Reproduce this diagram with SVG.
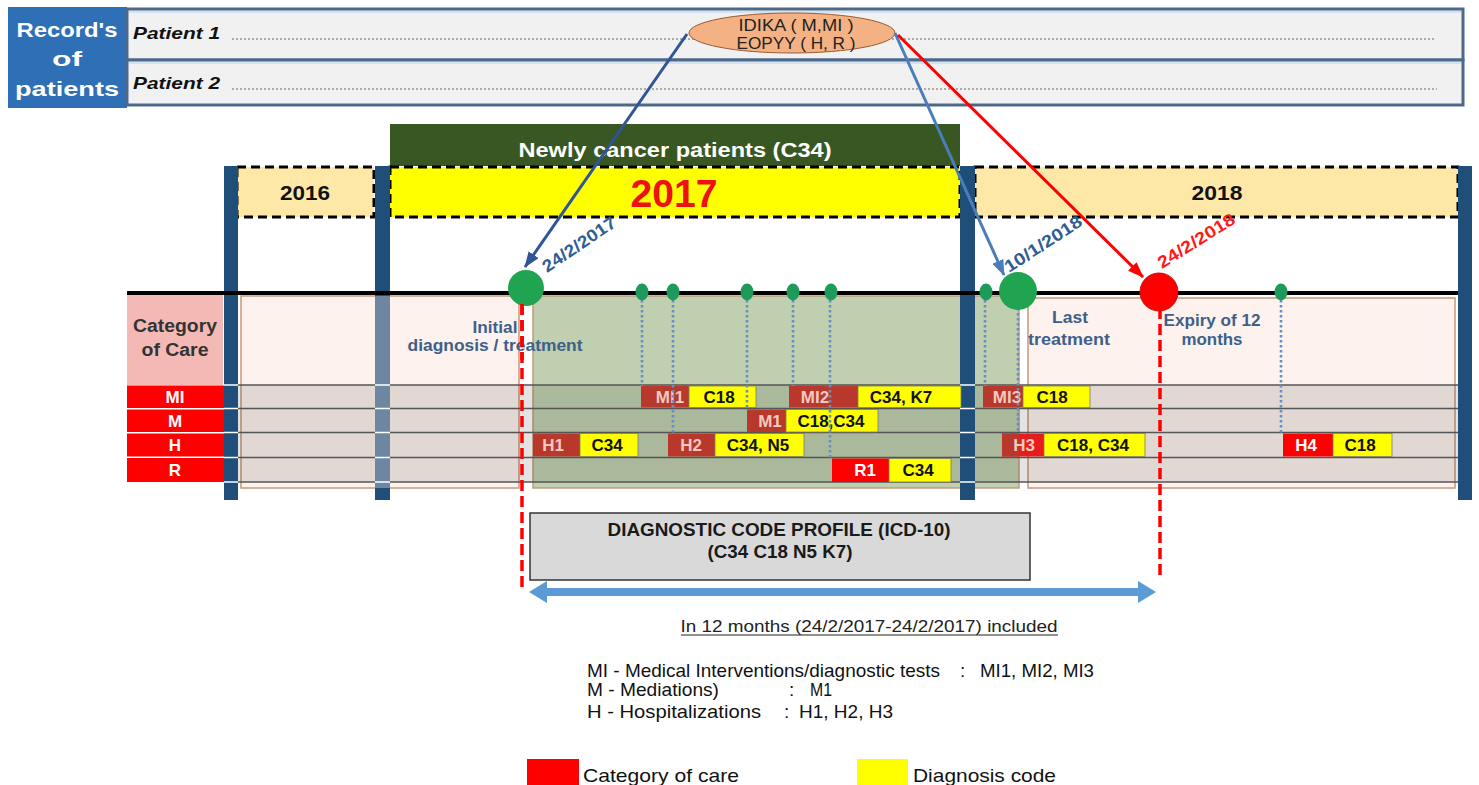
<svg xmlns="http://www.w3.org/2000/svg" width="1479" height="785" viewBox="0 0 1479 785">
<defs>
<style>
text{font-family:"Liberation Sans",Arial,sans-serif}
.b{font-weight:bold}
.cat{fill:#ff0000}
.catd{fill:#b8392b}
.dx{fill:#ffff00;stroke:#7d7d60;stroke-width:0.8}
.lbl{font-weight:bold;font-size:17px;fill:#111;text-anchor:middle}
.wl{font-weight:bold;font-size:17px;fill:#fff;text-anchor:middle}
.pl{font-weight:bold;font-size:17px;fill:#f3c9c2;text-anchor:middle}
.bar{fill:#1f4e79}
.yr{stroke:#000;stroke-width:3;stroke-dasharray:9 5}
.dot{fill:#1e9a5a}
.vd{stroke:#6790c2;stroke-width:2.6;stroke-dasharray:2.5 2.5;fill:none}
.rl{stroke:#555;stroke-width:1.5}
.tk{stroke:#fff;stroke-width:1.5}
.note{font-weight:bold;font-size:17px;fill:#3f5f8a;text-anchor:middle}
.rd{stroke:#ff0000;stroke-width:3.5;stroke-dasharray:11 5;fill:none}
.leg{font-size:19px;fill:#111}
.pan{stroke:#c29a7c;stroke-width:1.5}
</style>
<marker id="ahB" markerUnits="userSpaceOnUse" markerWidth="16" markerHeight="12" refX="15" refY="6" orient="auto"><path d="M0,0 L16,6 L0,12 z" fill="#2f5597"/></marker>
<marker id="ahL" markerUnits="userSpaceOnUse" markerWidth="16" markerHeight="12" refX="15" refY="6" orient="auto"><path d="M0,0 L16,6 L0,12 z" fill="#4a7ebb"/></marker>
<marker id="ahR" markerUnits="userSpaceOnUse" markerWidth="16" markerHeight="12" refX="15" refY="6" orient="auto"><path d="M0,0 L16,6 L0,12 z" fill="#ff0000"/></marker>
</defs>
<rect width="1479" height="785" fill="#fff"/>

<!-- Records header -->
<g id="records">
<rect x="8" y="7" width="119" height="101" fill="#2e6fb5"/>
<text x="67" y="37" class="b" font-size="21" fill="#fff" text-anchor="middle" textLength="101" lengthAdjust="spacingAndGlyphs">Record's</text>
<text x="67" y="66" class="b" font-size="21" fill="#fff" text-anchor="middle" textLength="30" lengthAdjust="spacingAndGlyphs">of</text>
<text x="67" y="96" class="b" font-size="21" fill="#fff" text-anchor="middle" textLength="104" lengthAdjust="spacingAndGlyphs">patients</text>
</g>
<g id="patient1">
<rect x="127" y="9" width="1336" height="51" fill="#f1f1f1" stroke="#4d6889" stroke-width="3"/>
<line x1="129" y1="12" x2="1461" y2="12" stroke="#d3e2f1" stroke-width="2"/>
<text x="133" y="39" class="b" font-size="17" font-style="italic" fill="#111" textLength="87" lengthAdjust="spacingAndGlyphs">Patient 1</text>
<line x1="232" y1="39" x2="1435" y2="39" stroke="#666" stroke-width="1" stroke-dasharray="2 2"/>
</g>
<g id="patient2">
<rect x="127" y="60" width="1336" height="45" fill="#f1f1f1" stroke="#4d6889" stroke-width="3"/>
<line x1="129" y1="63" x2="1461" y2="63" stroke="#d3e2f1" stroke-width="2"/>
<text x="133" y="89" class="b" font-size="17" font-style="italic" fill="#111" textLength="87" lengthAdjust="spacingAndGlyphs">Patient 2</text>
<line x1="232" y1="89" x2="1437" y2="89" stroke="#666" stroke-width="1" stroke-dasharray="2 2"/>
</g>
<g id="source">
<ellipse cx="792" cy="33" rx="103" ry="20" fill="#f4b183" stroke="#9a5b30" stroke-width="1"/>
<text x="796" y="31" font-size="16" fill="#222" text-anchor="middle" textLength="115" lengthAdjust="spacingAndGlyphs">IDIKA  ( M,MI )</text>
<text x="796" y="49" font-size="16" fill="#222" text-anchor="middle" textLength="119" lengthAdjust="spacingAndGlyphs">EOPYY ( H, R )</text>
</g>

<!-- Newly cancer header -->
<g id="newly">
<rect x="390" y="124" width="570" height="42" fill="#385723"/>
<text x="675" y="157" class="b" font-size="20" fill="#fff" text-anchor="middle" textLength="313" lengthAdjust="spacingAndGlyphs">Newly cancer patients (C34)</text>
</g>

<!-- panels -->
<g id="panels">
<rect x="241" y="296" width="278" height="192" fill="#fdf2ed" class="pan"/>
<rect x="533" y="296" width="486" height="192" fill="#bfcfb0" class="pan"/>
<rect x="1028" y="298" width="427" height="190" fill="#fdf2ed" class="pan"/>
<rect x="238" y="385" width="1220" height="97" fill="#000" opacity="0.11"/>
<g class="rl">
<line x1="238" y1="385" x2="1458" y2="385"/>
<line x1="238" y1="408.5" x2="1458" y2="408.5"/>
<line x1="238" y1="432.5" x2="1458" y2="432.5"/>
<line x1="238" y1="457.5" x2="1458" y2="457.5"/>
<line x1="238" y1="482" x2="1458" y2="482"/>
</g>
</g>

<!-- years -->
<g id="year-2016">
<rect x="237" y="167" width="137" height="50" fill="#fde8a8" class="yr"/>
<text x="305" y="200" class="b" font-size="21" fill="#111" text-anchor="middle" textLength="50" lengthAdjust="spacingAndGlyphs">2016</text>
</g>
<g id="year-2017">
<rect x="390" y="167" width="570" height="50" fill="#ffff00" class="yr"/>
<text x="674" y="207" class="b" font-size="38" fill="#ee1111" text-anchor="middle" textLength="87" lengthAdjust="spacingAndGlyphs">2017</text>
</g>
<g id="year-2018">
<rect x="975" y="167" width="483" height="50" fill="#fde8a8" class="yr"/>
<text x="1217" y="200" class="b" font-size="21" fill="#111" text-anchor="middle" textLength="51" lengthAdjust="spacingAndGlyphs">2018</text>
</g>

<!-- vertical bars -->
<g id="bars">
<rect x="224" y="166" width="14" height="334" class="bar"/>
<rect x="375" y="166" width="15" height="334" class="bar"/>
<rect x="375" y="296" width="15" height="192" fill="#6f86a3"/>
<rect x="960" y="166" width="15" height="334" class="bar"/>
<rect x="1458" y="166" width="14" height="334" class="bar"/>
<g class="tk">
<line x1="224" y1="385" x2="238" y2="385"/><line x1="224" y1="408.5" x2="238" y2="408.5"/><line x1="224" y1="432.5" x2="238" y2="432.5"/><line x1="224" y1="457.5" x2="238" y2="457.5"/><line x1="224" y1="482" x2="238" y2="482"/>
<line x1="375" y1="385" x2="390" y2="385"/><line x1="375" y1="408.5" x2="390" y2="408.5"/><line x1="375" y1="432.5" x2="390" y2="432.5"/><line x1="375" y1="457.5" x2="390" y2="457.5"/><line x1="375" y1="482" x2="390" y2="482"/>
<line x1="960" y1="385" x2="975" y2="385"/><line x1="960" y1="408.5" x2="975" y2="408.5"/><line x1="960" y1="432.5" x2="975" y2="432.5"/><line x1="960" y1="457.5" x2="975" y2="457.5"/><line x1="960" y1="482" x2="975" y2="482"/>
</g>
</g>

<!-- category column -->
<g id="category-of-care">
<rect x="127" y="295" width="96" height="90" fill="#f4b9b5"/>
<text x="175" y="332" class="b" font-size="18" fill="#333" text-anchor="middle" textLength="84" lengthAdjust="spacingAndGlyphs">Category</text>
<text x="175" y="356" class="b" font-size="18" fill="#333" text-anchor="middle" textLength="67" lengthAdjust="spacingAndGlyphs">of Care</text>
</g>
<g id="row-MI"><rect x="127" y="385.5" width="97" height="22.5" class="cat"/><text x="175" y="403" class="wl">MI</text></g>
<g id="row-M"><rect x="127" y="409.5" width="97" height="22.5" class="cat"/><text x="175" y="427" class="wl">M</text></g>
<g id="row-H"><rect x="127" y="433.5" width="97" height="23" class="cat"/><text x="175" y="451" class="wl">H</text></g>
<g id="row-R"><rect x="127" y="458" width="97" height="24" class="cat"/><text x="175" y="476" class="wl">R</text></g>

<!-- events -->
<g id="ev-MI1"><rect x="641" y="386" width="48" height="21.5" class="catd"/><text x="670" y="403" class="pl">MI1</text><rect x="689" y="386" width="67" height="21.5" class="dx"/><text x="719" y="403" class="lbl">C18</text></g>
<g id="ev-MI2"><rect x="789" y="386" width="69" height="21.5" class="catd"/><text x="815" y="403" class="pl">MI2</text><rect x="858" y="386" width="103" height="21.5" class="dx"/><text x="901" y="403" class="lbl">C34, K7</text></g>
<g id="ev-MI3"><rect x="983" y="386" width="40" height="21.5" class="catd"/><text x="1007" y="403" class="pl">MI3</text><rect x="1023" y="386" width="67" height="21.5" class="dx"/><text x="1052" y="403" class="lbl">C18</text></g>
<g id="ev-M1"><rect x="747" y="409.5" width="39" height="22.5" class="catd"/><text x="770" y="427" class="pl">M1</text><rect x="786" y="409.5" width="92" height="22.5" class="dx"/><text x="831" y="427" class="lbl">C18,C34</text></g>
<g id="ev-H1"><rect x="533" y="433.5" width="47" height="23" class="catd"/><text x="553" y="451" class="pl">H1</text><rect x="580" y="433.5" width="58" height="23" class="dx"/><text x="607" y="451" class="lbl">C34</text></g>
<g id="ev-H2"><rect x="668" y="433.5" width="47" height="23" class="catd"/><text x="691" y="451" class="pl">H2</text><rect x="715" y="433.5" width="89" height="23" class="dx"/><text x="758" y="451" class="lbl">C34, N5</text></g>
<g id="ev-H3"><rect x="1002" y="433.5" width="42" height="23" fill="#e81c1c"/><rect x="1002" y="433.5" width="17" height="23" class="catd"/><text x="1024" y="451" class="pl">H3</text><rect x="1044" y="433.5" width="101" height="23" class="dx"/><text x="1093" y="451" class="lbl">C18, C34</text></g>
<g id="ev-H4"><rect x="1283" y="433.5" width="50" height="23" class="cat"/><text x="1306" y="451" class="wl">H4</text><rect x="1333" y="433.5" width="59" height="23" class="dx"/><text x="1360" y="451" class="lbl">C18</text></g>
<g id="ev-R1"><rect x="832" y="458.5" width="57" height="23.5" class="cat"/><text x="865" y="476" class="wl">R1</text><rect x="889" y="458.5" width="62" height="23.5" class="dx"/><text x="918" y="476" class="lbl">C34</text></g>

<!-- connectors -->
<g id="connectors">
<path class="vd" d="M642,300V386 M673,300V433 M747,300V409 M793,300V386 M830,300V458 M985,300V386 M1018,308V433 M1281,300V433"/>
<line x1="127" y1="293" x2="1458" y2="293" stroke="#000" stroke-width="4"/>
<line x1="687" y1="34" x2="525" y2="267" stroke="#2f5597" stroke-width="3" marker-end="url(#ahB)"/>
<line x1="895" y1="33" x2="1004" y2="275" stroke="#4a7ebb" stroke-width="3" marker-end="url(#ahL)"/>
<line x1="898" y1="35" x2="1143" y2="277" stroke="#ff0000" stroke-width="3" marker-end="url(#ahR)"/>
<path class="rd" d="M522,304V592"/>
<path class="rd" d="M1160,308V580"/>
<polygon points="529,592 547,581 547,588 1138,588 1138,581 1156,592 1138,603 1138,596 547,596 547,603" fill="#5b9bd5"/>
</g>

<!-- timeline events -->
<g id="milestones">
<circle cx="526" cy="288" r="18" fill="#21a452"/>
<circle cx="1018" cy="291" r="19" fill="#21a452"/>
<circle cx="1159" cy="292" r="19" fill="#ff0000" stroke="#cc1111" stroke-width="1"/>
<ellipse cx="642" cy="292" rx="6.5" ry="8.5" class="dot"/>
<ellipse cx="673" cy="292" rx="6.5" ry="8.5" class="dot"/>
<ellipse cx="747" cy="292" rx="6.5" ry="8.5" class="dot"/>
<ellipse cx="793" cy="292" rx="6.5" ry="8.5" class="dot"/>
<ellipse cx="831" cy="292" rx="6.5" ry="8.5" class="dot"/>
<ellipse cx="986" cy="292" rx="6.5" ry="8.5" class="dot"/>
<ellipse cx="1281" cy="292" rx="6.5" ry="8.5" class="dot"/>
</g>

<!-- dates -->
<g id="dates">
<text transform="translate(547,273) rotate(-34)" class="b" font-size="17" fill="#2e5d94" textLength="85" lengthAdjust="spacingAndGlyphs">24/2/2017</text>
<text transform="translate(1009,273) rotate(-33)" class="b" font-size="17" fill="#2e5d94" textLength="89" lengthAdjust="spacingAndGlyphs">10/1/2018</text>
<text transform="translate(1162,269) rotate(-32)" class="b" font-size="17" fill="#ff1a1a" textLength="88" lengthAdjust="spacingAndGlyphs">24/2/2018</text>
</g>

<!-- notes -->
<g id="notes">
<text x="495" y="333" class="note" textLength="45" lengthAdjust="spacingAndGlyphs">Initial</text>
<text x="495" y="351" class="note" textLength="175" lengthAdjust="spacingAndGlyphs">diagnosis / treatment</text>
<text x="1070" y="323" class="note" textLength="36" lengthAdjust="spacingAndGlyphs">Last</text>
<text x="1069" y="345" class="note" textLength="82" lengthAdjust="spacingAndGlyphs">treatment</text>
<text x="1212" y="326" class="note" textLength="97" lengthAdjust="spacingAndGlyphs">Expiry of 12</text>
<text x="1212" y="345" class="note" textLength="61" lengthAdjust="spacingAndGlyphs">months</text>
</g>
<path class="rd" d="M522,304V360"/>

<!-- profile -->
<g id="profile">
<rect x="530" y="513" width="500" height="67" fill="#d9d9d9" stroke="#333" stroke-width="1.5"/>
<text x="779" y="536" class="b" font-size="18" fill="#1a1a1a" text-anchor="middle" textLength="343" lengthAdjust="spacingAndGlyphs">DIAGNOSTIC CODE PROFILE (ICD-10)</text>
<text x="780" y="558" class="b" font-size="18" fill="#1a1a1a" text-anchor="middle" textLength="145" lengthAdjust="spacingAndGlyphs">(C34 C18 N5 K7)</text>
</g>
<g id="span-label">
<text x="869" y="632" font-size="17" fill="#222" text-anchor="middle" textLength="377" lengthAdjust="spacingAndGlyphs">In 12 months (24/2/2017-24/2/2017) included</text>
<line x1="681" y1="635" x2="1058" y2="635" stroke="#222" stroke-width="1"/>
</g>

<!-- abbreviations -->
<g id="abbrev" class="leg">
<text x="587" y="677" textLength="353" lengthAdjust="spacingAndGlyphs">MI - Medical Interventions/diagnostic tests</text>
<text x="960" y="677">:</text>
<text x="980" y="677" textLength="114" lengthAdjust="spacingAndGlyphs">MI1, MI2, MI3</text>
<text x="587" y="696" textLength="132" lengthAdjust="spacingAndGlyphs">M  - Mediations)</text>
<text x="789" y="696">:</text>
<text x="810" y="696" textLength="22" lengthAdjust="spacingAndGlyphs">M1</text>
<text x="587" y="718" textLength="174" lengthAdjust="spacingAndGlyphs">H   - Hospitalizations</text>
<text x="784" y="718">:</text>
<text x="799" y="718" textLength="94" lengthAdjust="spacingAndGlyphs">H1, H2, H3</text>
</g>

<!-- legend -->
<g id="legend">
<rect x="527" y="759" width="52" height="26" fill="#ff0000"/>
<text x="583" y="782" font-size="19" fill="#111" textLength="156" lengthAdjust="spacingAndGlyphs">Category of care</text>
<rect x="857" y="759" width="51" height="26" fill="#ffff00"/>
<text x="913" y="782" font-size="19" fill="#111" textLength="143" lengthAdjust="spacingAndGlyphs">Diagnosis code</text>
</g>
</svg>
